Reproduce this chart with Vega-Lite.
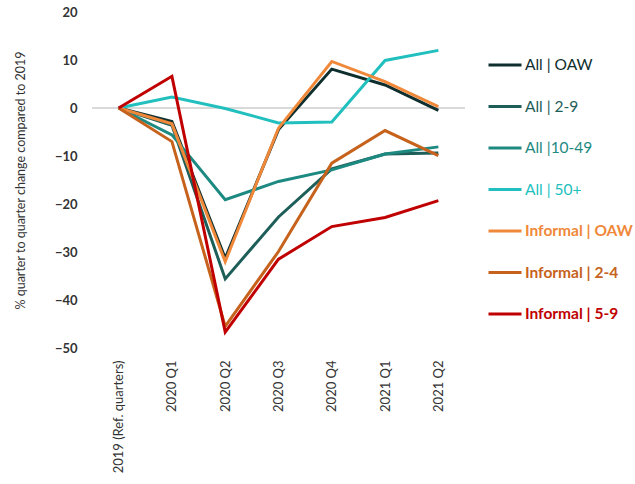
{
  "$schema": "https://vega.github.io/schema/vega-lite/v6.json",
  "width": 373,
  "height": 336,
  "autosize": "none",
  "padding": {"left": 92, "top": 12, "right": 170, "bottom": 136},
  "background": "white",
  "config": {
    "font": "Lato",
    "view": {"stroke": null}
  },
  "data": {
    "values": [
      {"q": "2019 (Ref. quarters)", "s": "All | OAW", "v": 0},
      {"q": "2020 Q1", "s": "All | OAW", "v": -2.8},
      {"q": "2020 Q2", "s": "All | OAW", "v": -31.3},
      {"q": "2020 Q3", "s": "All | OAW", "v": -4.5},
      {"q": "2020 Q4", "s": "All | OAW", "v": 8.1},
      {"q": "2021 Q1", "s": "All | OAW", "v": 4.8},
      {"q": "2021 Q2", "s": "All | OAW", "v": -0.5},

      {"q": "2019 (Ref. quarters)", "s": "All  | 2-9", "v": 0},
      {"q": "2020 Q1", "s": "All  | 2-9", "v": -3.6},
      {"q": "2020 Q2", "s": "All  | 2-9", "v": -35.6},
      {"q": "2020 Q3", "s": "All  | 2-9", "v": -22.7},
      {"q": "2020 Q4", "s": "All  | 2-9", "v": -12.7},
      {"q": "2021 Q1", "s": "All  | 2-9", "v": -9.6},
      {"q": "2021 Q2", "s": "All  | 2-9", "v": -9.4},

      {"q": "2019 (Ref. quarters)", "s": "All |10-49", "v": 0},
      {"q": "2020 Q1", "s": "All |10-49", "v": -5.6},
      {"q": "2020 Q2", "s": "All |10-49", "v": -19.1},
      {"q": "2020 Q3", "s": "All |10-49", "v": -15.3},
      {"q": "2020 Q4", "s": "All |10-49", "v": -12.9},
      {"q": "2021 Q1", "s": "All |10-49", "v": -9.6},
      {"q": "2021 Q2", "s": "All |10-49", "v": -8.1},

      {"q": "2019 (Ref. quarters)", "s": "All | 50+", "v": 0},
      {"q": "2020 Q1", "s": "All | 50+", "v": 2.3},
      {"q": "2020 Q2", "s": "All | 50+", "v": -0.1},
      {"q": "2020 Q3", "s": "All | 50+", "v": -3.1},
      {"q": "2020 Q4", "s": "All | 50+", "v": -2.9},
      {"q": "2021 Q1", "s": "All | 50+", "v": 9.9},
      {"q": "2021 Q2", "s": "All | 50+", "v": 12.0},

      {"q": "2019 (Ref. quarters)", "s": "Informal | OAW", "v": 0},
      {"q": "2020 Q1", "s": "Informal | OAW", "v": -3.3},
      {"q": "2020 Q2", "s": "Informal | OAW", "v": -32.0},
      {"q": "2020 Q3", "s": "Informal | OAW", "v": -4.2},
      {"q": "2020 Q4", "s": "Informal | OAW", "v": 9.7},
      {"q": "2021 Q1", "s": "Informal | OAW", "v": 5.5},
      {"q": "2021 Q2", "s": "Informal | OAW", "v": 0.3},

      {"q": "2019 (Ref. quarters)", "s": "Informal | 2-4", "v": 0},
      {"q": "2020 Q1", "s": "Informal | 2-4", "v": -7.0},
      {"q": "2020 Q2", "s": "Informal | 2-4", "v": -45.5},
      {"q": "2020 Q3", "s": "Informal | 2-4", "v": -29.9},
      {"q": "2020 Q4", "s": "Informal | 2-4", "v": -11.5},
      {"q": "2021 Q1", "s": "Informal | 2-4", "v": -4.7},
      {"q": "2021 Q2", "s": "Informal | 2-4", "v": -9.9},

      {"q": "2019 (Ref. quarters)", "s": "Informal | 5-9", "v": 0},
      {"q": "2020 Q1", "s": "Informal | 5-9", "v": 6.6},
      {"q": "2020 Q2", "s": "Informal | 5-9", "v": -46.7},
      {"q": "2020 Q3", "s": "Informal | 5-9", "v": -31.5},
      {"q": "2020 Q4", "s": "Informal | 5-9", "v": -24.7},
      {"q": "2021 Q1", "s": "Informal | 5-9", "v": -22.8},
      {"q": "2021 Q2", "s": "Informal | 5-9", "v": -19.3}
    ]
  },
  "layer": [
    {
      "mark": {"type": "rule", "color": "#d9d9d9", "strokeWidth": 1},
      "encoding": {"y": {"datum": 0, "type": "quantitative"}}
    },
    {
      "mark": {"type": "line", "strokeWidth": 3, "strokeJoin": "miter"},
      "encoding": {
        "x": {
          "field": "q",
          "type": "ordinal",
          "scale": {"type": "point", "padding": 0.5},
          "sort": null,
          "axis": {
            "title": null,
            "labelAngle": -90,
            "labelFontSize": 13,
            "labelColor": "#333333",
            "labelPadding": 12,
            "ticks": false,
            "domain": false
          }
        },
        "y": {
          "field": "v",
          "type": "quantitative",
          "scale": {"domain": [-50, 20], "nice": false, "zero": false},
          "axis": {
            "title": "% quarter to quarter change compared to 2019",
            "titleFontSize": 12.5,
            "titleFontWeight": "normal",
            "titleColor": "#333333",
            "titlePadding": 27,
            "values": [-50, -40, -30, -20, -10, 0, 10, 20],
            "labelFontSize": 13,
            "labelFontWeight": "bold",
            "labelColor": "#333333",
            "labelPadding": 15,
            "ticks": false,
            "domain": false,
            "grid": false
          }
        },
        "color": {
          "field": "s",
          "type": "nominal",
          "scale": {
            "domain": ["All | OAW", "All  | 2-9", "All |10-49", "All | 50+", "Informal | OAW", "Informal | 2-4", "Informal | 5-9"],
            "range": ["#0f2e2e", "#1d5e59", "#1d8a82", "#22bfbf", "#f0883a", "#c6621c", "#c00000"]
          },
          "legend": {
            "title": null,
            "orient": "none",
            "legendX": 395,
            "legendY": 35,
            "symbolType": "stroke",
            "symbolSize": 1089,
            "symbolStrokeWidth": 3,
            "labelFontSize": 15.5,
            "labelFontWeight": "bold",
            "labelOffset": 2,
            "rowPadding": 14.5,
            "labelLimit": 200,
            "encode": {
              "labels": {"update": {
                "fill": {"scale": "color", "field": "value"},
                "fontWeight": {"signal": "indexof(datum.value, 'Informal') === 0 ? 'bold' : 'normal'"}
              }}
            }
          }
        }
      }
    }
  ]
}
